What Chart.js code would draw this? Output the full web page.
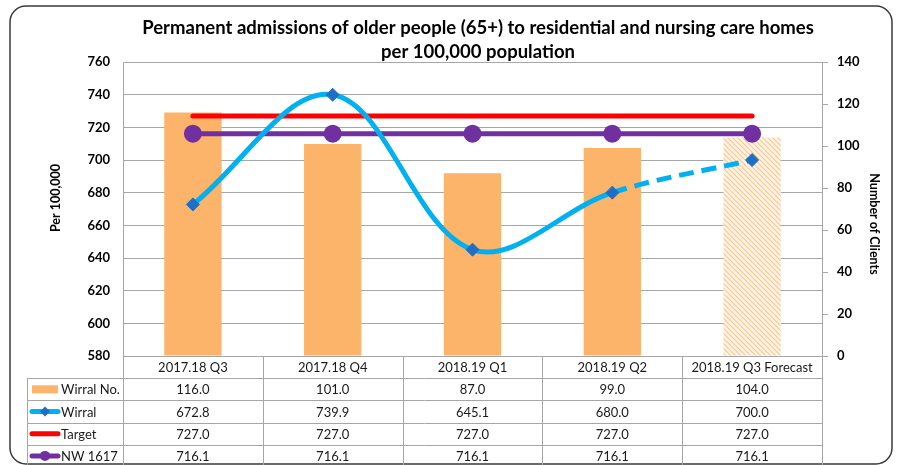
<!DOCTYPE html>
<html>
<head>
<meta charset="utf-8">
<script src="https://cdn.jsdelivr.net/npm/chart.js@4.4.1/dist/chart.umd.min.js"></script>
<style>
  html, body { margin: 0; padding: 0; background: #fff; }
  #wrap { width: 899px; height: 465px; }
</style>
</head>
<body>
<div id="wrap"><canvas id="admissionsChart" width="899" height="465"></canvas></div>
<script>
// Chart data
const categories = ['2017.18 Q3', '2017.18 Q4', '2018.19 Q1', '2018.19 Q2', '2018.19 Q3 Forecast'];
const wirralNo = [116.0, 101.0, 87.0, 99.0, 104.0];
const wirral = [672.8, 739.9, 645.1, 680.0, 700.0];
const target = [727.0, 727.0, 727.0, 727.0, 727.0];
const nw1617 = [716.1, 716.1, 716.1, 716.1, 716.1];
const leftTicks = [580, 600, 620, 640, 660, 680, 700, 720, 740, 760];
const rightTicks = [0, 20, 40, 60, 80, 100, 120, 140];

const titleLines = ['Permanent admissions of older people (65+) to residential and nursing care homes', 'per 100,000 population'];
const forecastIndex = 4;

const ORANGE = '#fbb46a';
const BLUE = '#00b0f0';
const MARKER_BLUE = '#1f6fc5';
const RED = '#ff0000';
const PURPLE = '#7030a0';
const GRID = '#a6a6a6';
const FONT = 'Lato, "Liberation Sans", sans-serif';

function makeHatch() {
    const c = document.createElement('canvas');
    c.width = 5;
    c.height = 5;
    const g = c.getContext('2d');
    g.fillStyle = '#fff4e8';
    g.fillRect(0, 0, 5, 5);
    g.strokeStyle = '#fcc48a';
    g.lineWidth = 1.1;
    g.beginPath();
    g.moveTo(0, 0); g.lineTo(5, 5);
    g.moveTo(-3, 2); g.lineTo(3, 8);
    g.moveTo(2, -3); g.lineTo(8, 3);
    g.stroke();
    return g.createPattern(c, 'repeat');
}

const hatch = makeHatch();
const barColors = wirralNo.map((v, i) => i === forecastIndex ? hatch : ORANGE);

// Frame, title, axis titles and data table drawn around the plot
const tablePlugin = {
    id: 'dataTable',
    beforeDraw(chart) {
        const ctx = chart.ctx;
        ctx.save();
        ctx.fillStyle = '#fff';
        ctx.fillRect(0, 0, chart.width, chart.height);
        ctx.restore();
    },
    afterDraw(chart) {
        const ctx = chart.ctx;
        const area = chart.chartArea;
        const x = chart.scales.x;
        const catW = (x.right - x.left) / categories.length;
        const px = v => Math.round(v) + 0.5;

        ctx.save();

        // outer rounded frame
        ctx.strokeStyle = '#3a3a3a';
        ctx.lineWidth = 1.5;
        ctx.beginPath();
        ctx.roundRect(10, 6, 882, 458, 16);
        ctx.stroke();

        // title
        ctx.fillStyle = '#000';
        ctx.textAlign = 'center';
        ctx.textBaseline = 'middle';
        ctx.font = 'bold 18.5px ' + FONT;
        ctx.fillText(titleLines[0], 478, 28);
        ctx.fillText(titleLines[1], 478, 52);

        // axis titles
        ctx.font = 'bold 12.5px ' + FONT;
        ctx.save();
        ctx.translate(56, 198);
        ctx.rotate(-Math.PI / 2);
        ctx.fillText('Per 100,000', 0, 0);
        ctx.restore();
        ctx.save();
        ctx.translate(874, 224);
        ctx.rotate(Math.PI / 2);
        ctx.fillText('Number of Clients', 0, 0);
        ctx.restore();

        // table grid
        const top = area.bottom;
        const rowH = 22.2;
        const tableLeft = 27;
        const rows = [
            { label: 'Wirral No.', values: wirralNo, key: 'bar' },
            { label: 'Wirral', values: wirral, key: 'wirral' },
            { label: 'Target', values: target, key: 'target' },
            { label: 'NW 1617', values: nw1617, key: 'nw' }
        ];
        ctx.strokeStyle = GRID;
        ctx.lineWidth = 1;
        ctx.beginPath();
        for (let r = 1; r <= rows.length + 1; r++) {
            const y = px(top + r * rowH);
            ctx.moveTo(tableLeft, y);
            ctx.lineTo(area.right, y);
        }
        ctx.moveTo(px(tableLeft), px(top + rowH));
        ctx.lineTo(px(tableLeft), chart.height);
        for (let i = 0; i <= categories.length; i++) {
            const xx = px(x.left + i * catW);
            ctx.moveTo(xx, top);
            ctx.lineTo(xx, chart.height);
        }
        ctx.stroke();

        // header and values
        ctx.fillStyle = '#1a1a1a';
        ctx.font = '13px ' + FONT;
        ctx.textAlign = 'center';
        categories.forEach((c, i) => {
            ctx.fillText(c, x.getPixelForValue(i), top + rowH / 2 + 1);
        });
        rows.forEach((row, r) => {
            const cy = top + (r + 1.5) * rowH + 1;
            row.values.forEach((v, i) => {
                ctx.fillText(v.toFixed(1), x.getPixelForValue(i), cy);
            });
        });

        // legend keys
        ctx.textAlign = 'left';
        rows.forEach((row, r) => {
            const cy = top + (r + 1.5) * rowH;
            ctx.fillStyle = '#1a1a1a';
            ctx.fillText(row.label, 61, cy + 1);
            ctx.lineCap = 'round';
            if (row.key === 'bar') {
                ctx.fillStyle = ORANGE;
                ctx.fillRect(32, cy - 4, 26, 8);
            } else if (row.key === 'wirral') {
                ctx.strokeStyle = BLUE;
                ctx.lineWidth = 5;
                ctx.beginPath(); ctx.moveTo(32, cy); ctx.lineTo(58, cy); ctx.stroke();
                ctx.fillStyle = MARKER_BLUE;
                ctx.beginPath();
                ctx.moveTo(45, cy - 5); ctx.lineTo(50, cy); ctx.lineTo(45, cy + 5); ctx.lineTo(40, cy);
                ctx.closePath(); ctx.fill();
            } else if (row.key === 'target') {
                ctx.strokeStyle = RED;
                ctx.lineWidth = 5;
                ctx.beginPath(); ctx.moveTo(32, cy); ctx.lineTo(58, cy); ctx.stroke();
            } else {
                ctx.strokeStyle = PURPLE;
                ctx.lineWidth = 5;
                ctx.beginPath(); ctx.moveTo(32, cy); ctx.lineTo(58, cy); ctx.stroke();
                ctx.fillStyle = PURPLE;
                ctx.beginPath(); ctx.arc(45, cy, 5, 0, Math.PI * 2); ctx.fill();
            }
        });

        ctx.restore();
    }
};

const ctx = document.getElementById('admissionsChart').getContext('2d');
const admissionsChart = new Chart(ctx, {
    type: 'bar',
    data: {
        labels: categories,
        datasets: [
            {
                type: 'line',
                label: 'Wirral',
                data: wirral,
                yAxisID: 'y',
                borderColor: BLUE,
                borderWidth: 5,
                tension: 0.36,
                pointStyle: 'rectRot',
                pointRadius: 6.5,
                pointBackgroundColor: MARKER_BLUE,
                pointBorderColor: MARKER_BLUE,
                pointBorderWidth: 1,
                segment: {
                    borderDash: c => c.p1DataIndex === forecastIndex ? [15, 8] : undefined
                },
                order: 1
            },
            {
                type: 'line',
                label: 'NW 1617',
                data: nw1617,
                yAxisID: 'y',
                borderColor: PURPLE,
                borderWidth: 5,
                borderCapStyle: 'round',
                pointStyle: 'circle',
                pointRadius: 6.5,
                pointBackgroundColor: PURPLE,
                pointBorderColor: PURPLE,
                order: 2
            },
            {
                type: 'line',
                label: 'Target',
                data: target,
                yAxisID: 'y',
                borderColor: RED,
                borderWidth: 5,
                borderCapStyle: 'round',
                pointRadius: 0,
                order: 3
            },
            {
                type: 'bar',
                label: 'Wirral No.',
                data: wirralNo,
                yAxisID: 'y1',
                backgroundColor: barColors,
                borderWidth: 0,
                barPercentage: 0.41,
                categoryPercentage: 1,
                order: 5
            }
        ]
    },
    options: {
        responsive: false,
        animation: false,
        layout: {
            padding: { top: 62, bottom: 109, left: 0, right: 0 }
        },
        plugins: {
            legend: { display: false },
            title: { display: false },
            tooltip: { enabled: false }
        },
        scales: {
            x: {
                display: false,
                offset: true
            },
            y: {
                position: 'left',
                min: Math.min(...leftTicks),
                max: Math.max(...leftTicks),
                afterBuildTicks: scale => {
                    scale.ticks = leftTicks.map(v => ({ value: v }));
                },
                afterFit: scale => { scale.width = 123; },
                grid: {
                    color: GRID,
                    lineWidth: 1,
                    drawTicks: false
                },
                border: { display: true, color: GRID },
                ticks: {
                    color: '#000',
                    padding: 13,
                    font: { family: FONT, size: 13, weight: 'bold' }
                }
            },
            y1: {
                position: 'right',
                min: Math.min(...rightTicks),
                max: Math.max(...rightTicks),
                afterBuildTicks: scale => {
                    scale.ticks = rightTicks.map(v => ({ value: v }));
                },
                afterFit: scale => { scale.width = 77; },
                grid: {
                    drawOnChartArea: false,
                    color: GRID,
                    tickLength: 6
                },
                border: { display: true, color: GRID },
                ticks: {
                    color: '#000',
                    padding: 9,
                    font: { family: FONT, size: 13, weight: 'bold' }
                }
            }
        }
    },
    plugins: [tablePlugin]
});
</script>
</body>
</html>
